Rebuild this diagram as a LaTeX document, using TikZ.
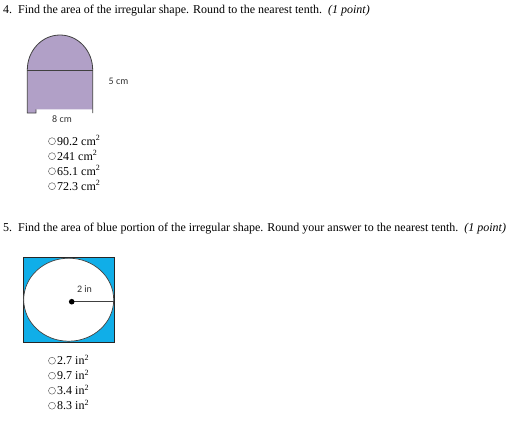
\documentclass[tikz,border=0pt]{standalone}
\usepackage{fontspec}
\setmainfont{Liberation Serif}
\newfontfamily\labelfont{Carlito}
\definecolor{shapepurple}{HTML}{B1A0C7}
\definecolor{shapeblue}{HTML}{10AEE8}
\definecolor{edgegray}{HTML}{404040}
\begin{document}
\begin{tikzpicture}[x=1pt,y=-1pt,
  question/.style={anchor=base west,inner sep=0pt,font=\fontsize{12}{14}\selectfont},
  option/.style={anchor=base west,inner sep=0pt,font=\fontsize{12}{14}\selectfont},
  radio/.style={draw=gray!80!black,line width=0.5pt,circle,minimum size=7pt,inner sep=0pt},
  dimlabel/.style={inner sep=0pt,font=\labelfont\fontsize{10}{11}\selectfont,text=black!80},
  outline/.style={draw=edgegray,line width=0.8pt}]
\useasboundingbox (0,0) rectangle (521,429);
% Question 4
\node[question] (q4) at (3,13.5) {4.\ \ Find the area of the irregular shape. Round to the nearest tenth.\ \ \textit{(1 point)}};
\fill[shapepurple] (27.3,109.3) -- (27.3,113) -- (36,113) -- (36,109.3) -- (92.7,109.3) -- (92.7,70) arc[start angle=0,end angle=-180,x radius=32.7,y radius=35] -- cycle;
\draw[outline] (92.7,113) -- (92.7,70) arc[start angle=0,end angle=-180,x radius=32.7,y radius=35] -- (27.3,113) -- (36,113) -- (36,109.3);
\draw[outline] (27.3,70) -- (92.7,70);
\node[dimlabel] (h) at (118.5,81.5) {5 cm};
\node[dimlabel] (w) at (62,119) {8 cm};
\foreach \i/\t [count=\k from 0] in {a/{90.2 cm\textsuperscript{2}},b/{241 cm\textsuperscript{2}},c/{65.1 cm\textsuperscript{2}},d/{72.3 cm\textsuperscript{2}}}{
  \node[radio] (r4\i) at (52,145-3.8+15*\k) {};
  \node[option] (o4\i) at (57,145+15*\k) {\t};
}
% Question 5
\node[question] (q5) at (3,231.7) {5.\ \ Find the area of blue portion of the irregular shape. Round your answer to the nearest tenth.\ \ \textit{(1 point)}};
\draw[fill=shapeblue,draw=black!85,line width=0.7pt] (23.3,257.5) rectangle (114,342);
\draw[fill=white,draw=edgegray,line width=0.7pt] (68.7,299.7) ellipse[x radius=45,y radius=41.5];
\coordinate (ctr) at (71.7,301.7);
\coordinate (edge) at (114,301.7);
\draw[edgegray,line width=0.8pt] (ctr) -- (edge);
\fill[black] (ctr) circle[radius=2.8];
\node[dimlabel] (rad) at (84.5,289.5) {2 in};
\foreach \i/\t [count=\k from 0] in {a/{2.7 in\textsuperscript{2}},b/{9.7 in\textsuperscript{2}},c/{3.4 in\textsuperscript{2}},d/{8.3 in\textsuperscript{2}}}{
  \node[radio] (r5\i) at (52,364.5-3.8+15*\k) {};
  \node[option] (o5\i) at (57,364.5+15*\k) {\t};
}
\end{tikzpicture}
\end{document}
